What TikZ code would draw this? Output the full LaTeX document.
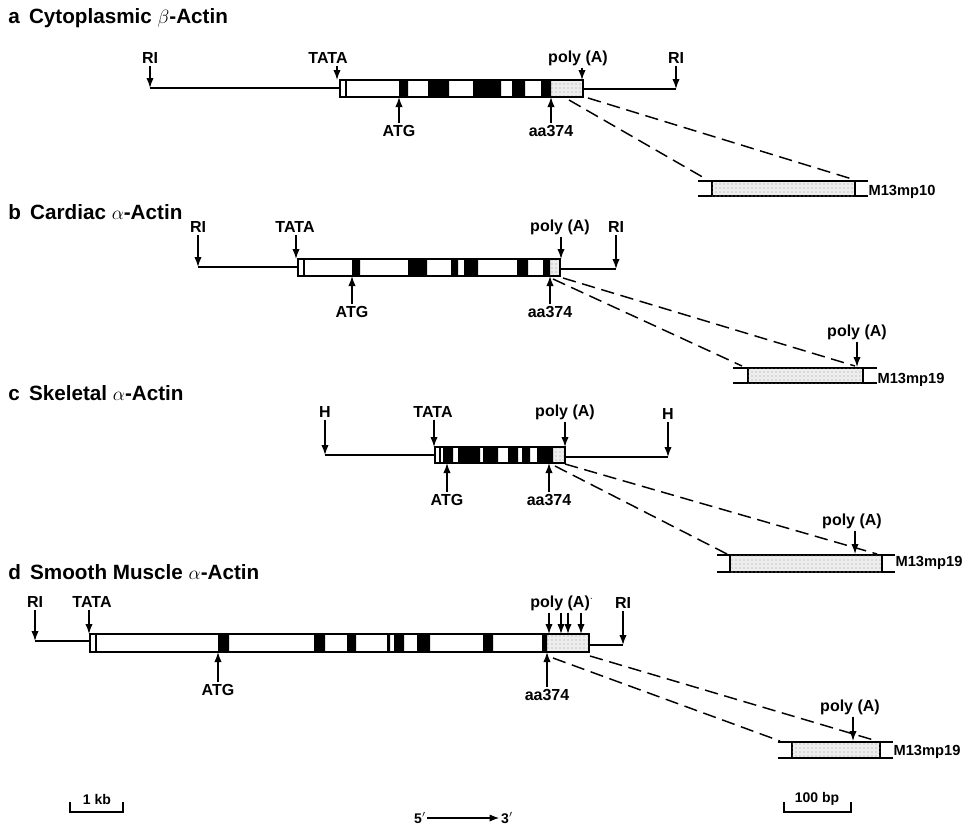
\documentclass[tikz,border=0pt]{standalone}
\usepackage{fontspec}
\setmainfont{Liberation Sans}
\usetikzlibrary{arrows.meta,positioning,patterns}

\begin{document}
\begin{tikzpicture}[x=0.75pt,y=-0.75pt,>={Latex[length=7.5pt,width=5.5pt]},
  font=\fontsize{12}{14}\selectfont\bfseries,
  lbl/.style={inner sep=1.5pt},
  flank/.style={line width=1.1pt},
  gene/.style={draw,line width=1.4pt},
  utr/.style={fill=gray!14,postaction={pattern=dots,pattern color=gray!80}},
  cut/.style={->,line width=1pt},
  zoomln/.style={line width=1.1pt,dash pattern=on 10pt off 5pt},
  ttl/.style={anchor=west,inner sep=0pt,font=\fontsize{15.5}{17}\selectfont\bfseries},
  vec/.style={anchor=west,inner sep=1pt,font=\fontsize{11}{13}\selectfont\bfseries},
  bar/.style={inner sep=1pt,font=\fontsize{10.5}{12}\selectfont\bfseries}]
  \useasboundingbox (0,0) rectangle (964,828);

  % a: cytoplasmic beta-actin
  \node[ttl] (ta) at (8,18) {a\hspace{7pt}Cytoplasmic $\beta$-Actin};
  \draw[flank] (150,88) -- (340,88) (583,89) -- (676,89);
  \fill[utr] (551,80) rectangle (583,97);
  \fill (399,80) rectangle (408,97) (428,80) rectangle (449,97) (473,80) rectangle (501,97)
    (512,80) rectangle (525,97) (541,80) rectangle (551,97);
  \draw[flank] (346,80) -- (346,97);
  \draw[gene] (340,80) rectangle (583,97);
  \node[lbl] (aRI1) at (150,58) {RI};
  \node[lbl] (aTATA) at (328,58) {TATA};
  \node[lbl] (aPA) at (578,58) {poly (A)};
  \node[lbl] (aRI2) at (676,58) {RI};
  \node[lbl] (aATG) at (399,131) {ATG};
  \node[lbl] (aAA) at (551,131) {aa374};
  \coordinate (aRI1t) at (150,88); \coordinate (aTATAt) at (337,80);
  \coordinate (aPAt) at (582,80); \coordinate (aRI2t) at (676,89);
  \coordinate (aATGt) at (399,97); \coordinate (aAAt) at (551,97);
  \draw[cut] (aRI1) -- (aRI1t); \draw[cut] (aTATA.south -| aTATAt) -- (aTATAt);
  \draw[cut] (aPA.south -| aPAt) -- (aPAt); \draw[cut] (aRI2) -- (aRI2t);
  \draw[cut] (aATG) -- (aATGt); \draw[cut] (aAA) -- (aAAt);
  % a: subclone
  \coordinate (aS1) at (569,100); \coordinate (aS2) at (588,98);
  \coordinate (aE1) at (706,179); \coordinate (aE2) at (852,179);
  \draw[zoomln] (aS1) -- (aE1) (aS2) -- (aE2);
  \draw[flank] (698,181) -- (868,181) (698,196) -- (868,196);
  \draw[utr,flank] (712,181) rectangle (855,196);
  \node[vec] (aM13) at (867,192) {M13mp10};

  % b: cardiac alpha-actin
  \node[ttl] (tb) at (8,212) {b\hspace{7pt}Cardiac $\alpha$-Actin};
  \draw[flank] (198,267) -- (298,267) (560,269) -- (616,269);
  \fill[utr] (550,259) rectangle (560,276);
  \fill (352,259) rectangle (360,276) (408,259) rectangle (427,276) (451,259) rectangle (458,276)
    (464,259) rectangle (478,276) (517,259) rectangle (528,276) (543,259) rectangle (550,276);
  \draw[flank] (304,259) -- (304,276);
  \draw[gene] (298,259) rectangle (560,276);
  \node[lbl] (bRI1) at (198,227) {RI};
  \node[lbl] (bTATA) at (295,227) {TATA};
  \node[lbl] (bPA) at (560,227) {poly (A)};
  \node[lbl] (bRI2) at (616,227) {RI};
  \node[lbl] (bATG) at (352,312) {ATG};
  \node[lbl] (bAA) at (550,312) {aa374};
  \coordinate (bRI1t) at (198,267); \coordinate (bTATAt) at (296,259);
  \coordinate (bPAt) at (561,259); \coordinate (bRI2t) at (616,269);
  \coordinate (bATGt) at (352,276); \coordinate (bAAt) at (550,276);
  \draw[cut] (bRI1) -- (bRI1t); \draw[cut] (bTATA.south -| bTATAt) -- (bTATAt);
  \draw[cut] (bPA.south -| bPAt) -- (bPAt); \draw[cut] (bRI2) -- (bRI2t);
  \draw[cut] (bATG) -- (bATGt); \draw[cut] (bAA) -- (bAAt);
  % b: subclone
  \coordinate (bS1) at (553,279); \coordinate (bS2) at (563,278);
  \coordinate (bE1) at (742,366); \coordinate (bE2) at (855,366);
  \draw[zoomln] (bS1) -- (bE1) (bS2) -- (bE2);
  \draw[flank] (733,368) -- (877,368) (733,383) -- (877,383);
  \draw[utr,flank] (748,368) rectangle (863,383);
  \node[vec] (bM13) at (876,380) {M13mp19};
  \node[lbl] (bPA2) at (857,332) {poly (A)};
  \coordinate (bPA2t) at (857,367);
  \draw[cut] (bPA2) -- (bPA2t);

  % c: skeletal alpha-actin
  \node[ttl] (tc) at (8,393) {c\hspace{7pt}Skeletal $\alpha$-Actin};
  \draw[flank] (325,455) -- (435,455) (565,457) -- (668,457);
  \fill[utr] (553,447) rectangle (565,463);
  \fill (443,447) rectangle (453,463) (458,447) rectangle (480,463) (483,447) rectangle (498,463)
    (508,447) rectangle (518,463) (522,447) rectangle (530,463) (537,447) rectangle (553,463);
  \draw[flank] (440,447) -- (440,463);
  \draw[gene] (435,447) rectangle (565,463);
  \node[lbl] (cH1) at (325,412) {H};
  \node[lbl] (cTATA) at (433,412) {TATA};
  \node[lbl] (cPA) at (565,412) {poly (A)};
  \node[lbl] (cH2) at (668,414) {H};
  \node[lbl] (cATG) at (447,500) {ATG};
  \node[lbl] (cAA) at (549,500) {aa374};
  \coordinate (cH1t) at (325,455); \coordinate (cTATAt) at (434,447);
  \coordinate (cPAt) at (565,447); \coordinate (cH2t) at (668,457);
  \coordinate (cATGt) at (447,463); \coordinate (cAAt) at (549,463);
  \draw[cut] (cH1) -- (cH1t); \draw[cut] (cTATA.south -| cTATAt) -- (cTATAt);
  \draw[cut] (cPA) -- (cPAt); \draw[cut] (cH2) -- (cH2t);
  \draw[cut] (cATG) -- (cATGt); \draw[cut] (cAA) -- (cAAt);
  % c: subclone
  \coordinate (cS1) at (555,466); \coordinate (cS2) at (565,464);
  \coordinate (cE1) at (727,554); \coordinate (cE2) at (877,554);
  \draw[zoomln] (cS1) -- (cE1) (cS2) -- (cE2);
  \draw[flank] (717,555) -- (895,555) (717,572) -- (895,572);
  \draw[utr,flank] (730,555) rectangle (882,572);
  \node[vec] (cM13) at (894,563) {M13mp19};
  \node[lbl] (cPA2) at (852,521) {poly (A)};
  \coordinate (cPA2t) at (855,554);
  \draw[cut] (cPA2.south -| cPA2t) -- (cPA2t);

  % d: smooth muscle alpha-actin
  \node[ttl] (td) at (8,572) {d\hspace{7pt}Smooth Muscle $\alpha$-Actin};
  \draw[flank] (35,641) -- (90,641) (589,645) -- (623,645);
  \fill[utr] (547,634) rectangle (589,652);
  \fill (218,634) rectangle (229,652) (314,634) rectangle (325,652) (347,634) rectangle (356,652)
    (387,634) rectangle (390,652) (394,634) rectangle (404,652) (417,634) rectangle (430,652)
    (483,634) rectangle (493,652) (542,634) rectangle (547,652);
  \draw[flank] (96,634) -- (96,652);
  \draw[gene] (90,634) rectangle (589,652);
  \node[lbl] (dRI1) at (35,602) {RI};
  \node[lbl] (dTATA) at (92,602) {TATA};
  \node[lbl] (dPA) at (562,603) {poly (A)\textsuperscript{$\cdot$}};
  \node[lbl] (dRI2) at (623,603) {RI};
  \node[lbl] (dATG) at (218,690) {ATG};
  \node[lbl] (dAA) at (547,695) {aa374};
  \coordinate (dRI1t) at (35,641); \coordinate (dTATAt) at (89,634);
  \coordinate (dPA1) at (549,634); \coordinate (dPA2) at (561,634);
  \coordinate (dPA3) at (568,634); \coordinate (dPA4) at (581,634);
  \coordinate (dRI2t) at (623,645);
  \coordinate (dATGt) at (218,652); \coordinate (dAAt) at (547,652);
  \draw[cut] (dRI1) -- (dRI1t); \draw[cut] (dTATA.south -| dTATAt) -- (dTATAt);
  \draw[cut] (dPA.south -| dPA1) -- (dPA1); \draw[cut] (dPA.south -| dPA2) -- (dPA2);
  \draw[cut] (dPA.south -| dPA3) -- (dPA3); \draw[cut] (dPA.south -| dPA4) -- (dPA4);
  \draw[cut] (dRI2) -- (dRI2t);
  \draw[cut] (dATG) -- (dATGt); \draw[cut] (dAA) -- (dAAt);
  % d: subclone
  \coordinate (dS1) at (553,658); \coordinate (dS2) at (590,656);
  \coordinate (dE1) at (780,741); \coordinate (dE2) at (877,741);
  \draw[zoomln] (dS1) -- (dE1) (dS2) -- (dE2);
  \draw[flank] (778,742) -- (893,742) (778,758) -- (893,758);
  \draw[utr,flank] (792,742) rectangle (880,758);
  \node[vec] (dM13) at (892,752) {M13mp19};
  \node[lbl] (dPA5) at (850,707) {poly (A)};
  \coordinate (dPA5t) at (853,741);
  \draw[cut] (dPA5.south -| dPA5t) -- (dPA5t);

  % scale bars and direction
  \draw[flank] (70,802) -- (70,812) -- (123,812) -- (123,802);
  \node[bar] (kb) at (97,799) {1 kb};
  \draw[flank] (784,802) -- (784,812) -- (851,812) -- (851,802);
  \node[bar] (bp) at (817,799) {100 bp};
  \node[bar] (p5) at (420,818) {5$'$};
  \node[bar] (p3) at (507,818) {3$'$};
  \draw[->,line width=1.4pt] (p5) -- (p3);
\end{tikzpicture}
\end{document}
